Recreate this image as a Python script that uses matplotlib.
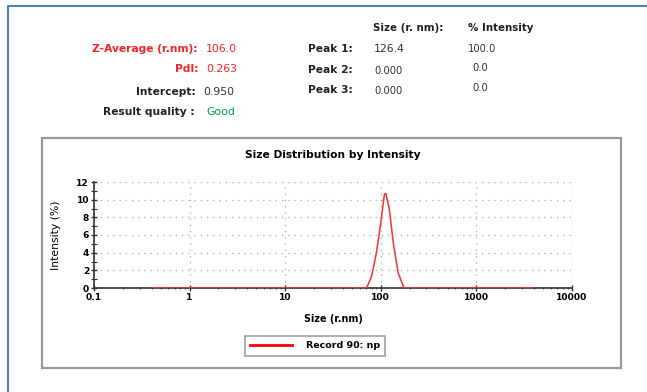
import matplotlib
matplotlib.use("Agg")
from matplotlib import pyplot as plt
from matplotlib.lines import Line2D
from matplotlib.patches import Rectangle
from matplotlib.ticker import FixedLocator, NullFormatter, LogLocator

plt.rcParams['font.family'] = ['DejaVu Sans']

# size distribution
size_nm = [0.4, 71, 80, 90, 100, 109, 113, 123, 135, 152, 175, 3900]
intensity = [0, 0, 1.3, 4.0, 7.4, 10.6, 10.7, 8.9, 5.1, 1.7, 0, 0]

x_ticks = [0.1, 1, 10, 100, 1000, 10000]
x_tick_labels = ["0.1", "1", "10", "100", "1000", "10000"]
y_ticks = [0, 2, 4, 6, 8, 10, 12]

summary_labels = ["Z-Average (r.nm):", "PdI:", "Intercept:", "Result quality :"]
summary_values = ["106.0", "0.263", "0.950", "Good"]
summary_colors = ["#ff2020", "#ff2020", "#222222", "#222222"]
value_colors = ["#ff2020", "#ff2020", "#333333", "#00a040"]

peak_labels = ["Peak 1:", "Peak 2:", "Peak 3:"]
peak_sizes = ["126.4", "0.000", "0.000"]
peak_pct = ["100.0", "0.0", "0.0"]

W, H = 647, 392
fig = plt.figure(figsize=(W / 100, H / 100), dpi=100)


def px(x, y):
    return x / W, 1 - y / H


# outer blue frame and inner gray box
fig.add_artist(Line2D([8 / W, 8 / W, 1], [0, 1 - 6 / H, 1 - 6 / H],
                      color="#4f81bd", lw=1.5, transform=fig.transFigure))
fig.add_artist(Rectangle(px(42, 368), (621 - 42) / W, (368 - 138) / H,
                         fill=False, edgecolor="#999999", lw=1.6,
                         transform=fig.transFigure))

# header table
fig.text(*px(373, 28), "Size (r. nm):", fontsize=7.4, fontweight="bold",
         color="#222222", va="center")
fig.text(*px(468, 28), "% Intensity", fontsize=7.4, fontweight="bold",
         color="#222222", va="center")
label_y = [49, 69, 92, 112]
label_x = [198, 198, 196, 195]
value_x = [206, 206, 203, 206]
for i, (lab, val) in enumerate(zip(summary_labels, summary_values)):
    fig.text(*px(label_x[i], label_y[i]), lab, fontsize=7.7, fontweight="bold",
             color=summary_colors[i], ha="right", va="center")
    fig.text(*px(value_x[i], label_y[i]), val, fontsize=7.8,
             color=value_colors[i], va="center")
peak_y = [49, 70, 90]
size_y = [49, 71, 91]
pct_y = [49, 68, 88]
for i in range(3):
    fig.text(*px(353, peak_y[i]), peak_labels[i], fontsize=7.7,
             fontweight="bold", color="#222222", ha="right", va="center")
    fig.text(*px(374, size_y[i]), peak_sizes[i],
             fontsize=7.8 if i == 0 else 7.2, color="#333333", va="center")
    fig.text(*px(468 if i == 0 else 472, pct_y[i]), peak_pct[i],
             fontsize=7.2, color="#333333", va="center")

# chart
ax = fig.add_axes([94 / W, 1 - 288 / H, (572 - 94) / W, (288 - 182) / H])
ax.plot(size_nm, intensity, color="#ff3030", lw=1.1, zorder=3,
        label="Record 90: np")
ax.set_xscale("log")
ax.set_xlim(0.1, 10000)
ax.set_ylim(0, 12)
ax.xaxis.set_major_locator(FixedLocator(x_ticks))
ax.set_xticklabels(x_tick_labels)
ax.xaxis.set_minor_locator(LogLocator(base=10, subs=range(2, 10)))
ax.xaxis.set_minor_formatter(NullFormatter())
ax.set_yticks(y_ticks)
ax.yaxis.set_minor_locator(FixedLocator(range(0, 13)))
for s in ["top", "right"]:
    ax.spines[s].set_visible(False)
for s in ["left", "bottom"]:
    ax.spines[s].set_color("#333333")
    ax.spines[s].set_linewidth(1.2)
ax.tick_params(axis="both", which="major", direction="inout", length=5,
               width=1, color="#333333", labelsize=6.6, pad=1)
ax.tick_params(axis="x", which="minor", direction="inout", length=2,
               width=0.8, color="#555555")
ax.tick_params(axis="y", which="minor", direction="inout", length=4,
               width=0.8, color="#333333")
for lab in ax.get_xticklabels() + ax.get_yticklabels():
    lab.set_fontweight("bold")
ax.grid(True, which="major", color="#aaaaaa", linestyle=(0, (1, 4)), lw=0.9)
ax.axvline(10000, color="#aaaaaa", linestyle=(0, (1, 2)), lw=0.9)
ax.set_title("Size Distribution by Intensity", fontsize=7.7, fontweight="bold",
             pad=17)
ax.set_xlabel("Size (r.nm)", fontsize=6.9, fontweight="bold", labelpad=9)
ax.set_ylabel("Intensity (%)", fontsize=7.8, labelpad=11)

leg = fig.legend(loc="center", bbox_to_anchor=px(315, 346), fontsize=6.8,
                 frameon=True, fancybox=False, handlelength=4.4,
                 borderpad=0.55, handletextpad=1.5, borderaxespad=0)
leg.get_frame().set_edgecolor("#888888")
leg.get_frame().set_linewidth(1.2)
for t in leg.get_texts():
    t.set_fontweight("bold")
for h in leg.get_lines():
    h.set_linewidth(2)
    h.set_color("#ff0000")

fig.savefig("out.png", dpi=100)
